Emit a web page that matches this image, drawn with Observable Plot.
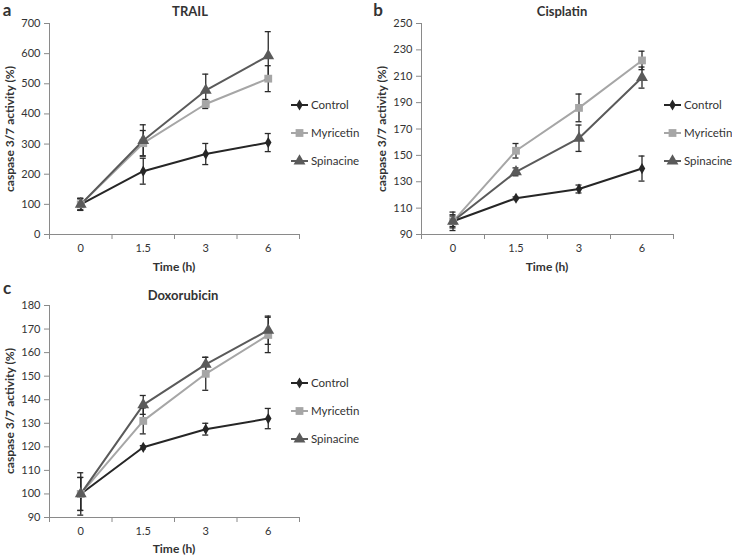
<!DOCTYPE html>
<html>
<head>
<meta charset="utf-8">
<script src="https://cdn.jsdelivr.net/npm/d3@7"></script>
<script src="https://cdn.jsdelivr.net/npm/@observablehq/plot@0.6"></script>
<style>
  html, body { margin: 0; padding: 0; background: #fff; }
  #root { position: relative; width: 732px; height: 556px; overflow: hidden; font-family: Lato, "Open Sans", sans-serif; color: #333; }
  .abs { position: absolute; white-space: nowrap; }
  .ctr { transform: translate(-50%, -50%); }
  .rot { transform: translate(-50%, -50%) rotate(-90deg); }
  .bold { font-weight: 700; }
  .panel svg { overflow: visible; }
</style>
</head>
<body>
<div id="root"></div>
<script>
// ---- data ----
const times = ["0", "1.5", "3", "6"];
const seriesNames = ["Control", "Myricetin", "Spinacine"];

// a: TRAIL
const trailControl = [100, 210, 267, 305];
const trailControlErr = [20, 43, 35, 30];
const trailMyricetin = [100, 303, 433, 517];
const trailMyricetinErr = [18, 42, 15, 43];
const trailSpinacine = [100, 312, 478, 593];
const trailSpinacineErr = [20, 52, 54, 80];
const trailTicks = [0, 100, 200, 300, 400, 500, 600, 700];

// b: Cisplatin
const cisControl = [100, 117.5, 124.5, 140];
const cisControlErr = [5, 1, 3, 9.5];
const cisMyricetin = [100, 153.5, 186, 222];
const cisMyricetinErr = [7, 5.5, 10.5, 7];
const cisSpinacine = [100, 137.5, 163, 209];
const cisSpinacineErr = [4, 3, 10, 8];
const cisTicks = [90, 110, 130, 150, 170, 190, 210, 230, 250];

// c: Doxorubicin
const doxControl = [100, 119.8, 127.5, 132];
const doxControlErr = [7, 0.7, 2.5, 4.3];
const doxMyricetin = [100, 131, 151, 167.5];
const doxMyricetinErr = [9, 5.5, 7, 7.5];
const doxSpinacine = [100, 137.8, 155, 169.5];
const doxSpinacineErr = [7, 4, 3, 6];
const doxTicks = [90, 100, 110, 120, 130, 140, 150, 160, 170, 180];

// ---- styles ----
const colors = {Control: "#262626", Myricetin: "#a6a6a6", Spinacine: "#5a5a5a"};
const symbols = {Control: "diamond", Myricetin: "square", Spinacine: "triangle"};
const sizes = {Control: 3.4, Myricetin: 4.4, Spinacine: 4.4};

const root = document.getElementById("root");

function addText(txt, x, y, cls, size) {
  const d = document.createElement("div");
  d.className = "abs " + cls;
  d.style.left = x + "px";
  d.style.top = y + "px";
  d.style.fontSize = size + "px";
  d.textContent = txt;
  root.appendChild(d);
}

function rowsOf(vals, errs, name) {
  return vals.map((v, i) => ({series: name, i, v, e: errs[i]}));
}

function panel(opt) {
  const {left, top, width, height, mL, mR, mT, mB, yDomain, yTicks, series} = opt;
  const marks = [
    Plot.ruleX([0], {stroke: "#8a8a8a"}),
    Plot.ruleY([yDomain[0]], {stroke: "#8a8a8a"}),
    Plot.axisY({ticks: yTicks, tickSize: 5, tickPadding: 4, stroke: "#8a8a8a", fill: "#333", fontSize: 11, label: null}),
    Plot.axisX({ticks: [0, 1, 2, 3, 4], tickSize: 5, tickFormat: () => "", stroke: "#8a8a8a", label: null}),
    Plot.axisX({ticks: times.map((t, i) => i + 0.5), tickSize: 0, tickPadding: 10, tickFormat: x => times[Math.round(x - 0.5)], fill: "#333", fontSize: 11, label: null})
  ];
  for (const s of series) {
    const rows = s.rows;
    marks.push(Plot.line(rows, {x: d => d.i + 0.5, y: "v", stroke: colors[s.name], strokeWidth: 2}));
  }
  for (const s of series) {
    const rows = s.rows;
    marks.push(Plot.ruleX(rows, {x: d => d.i + 0.5, y1: d => d.v - d.e, y2: d => d.v + d.e, stroke: "#2a2a2a", strokeWidth: 1.3}));
    marks.push(Plot.ruleY(rows, {x1: d => d.i + 0.5, x2: d => d.i + 0.5, y: d => d.v + d.e, insetLeft: -3, insetRight: -3, stroke: "#2a2a2a", strokeWidth: 1.3}));
    marks.push(Plot.ruleY(rows, {x1: d => d.i + 0.5, x2: d => d.i + 0.5, y: d => d.v - d.e, insetLeft: -3, insetRight: -3, stroke: "#2a2a2a", strokeWidth: 1.3}));
  }
  for (const s of series) {
    marks.push(Plot.dot(s.rows, {x: d => d.i + 0.5, y: "v", symbol: symbols[s.name], fill: colors[s.name], stroke: "none", r: sizes[s.name]}));
  }
  const chart = Plot.plot({
    width, height,
    marginLeft: mL, marginRight: mR, marginTop: mT, marginBottom: mB,
    style: {fontFamily: "Lato, 'Open Sans', sans-serif", fontSize: "11px", color: "#333", background: "transparent", overflow: "visible"},
    x: {domain: [0, 4], axis: null},
    y: {domain: yDomain, axis: null},
    marks
  });
  const wrap = document.createElement("div");
  wrap.className = "abs panel";
  wrap.style.left = left + "px";
  wrap.style.top = top + "px";
  wrap.appendChild(chart);
  root.appendChild(wrap);
}

function legend(x, y, gap) {
  seriesNames.forEach((name, k) => {
    const cy = y + k * gap;
    const svg = d3.create("svg").attr("width", 20).attr("height", 12)
      .style("position", "absolute").style("left", x + "px").style("top", (cy - 6) + "px").style("overflow", "visible");
    svg.append("line").attr("x1", 0).attr("x2", 17).attr("y1", 6).attr("y2", 6)
      .attr("stroke", colors[name]).attr("stroke-width", 2);
    const sym = {diamond: d3.symbolDiamond, square: d3.symbolSquare, triangle: d3.symbolTriangle}[symbols[name]];
    const r = sizes[name];
    svg.append("path").attr("transform", "translate(8.5,6)")
      .attr("d", d3.symbol(sym, Math.PI * r * r)()).attr("fill", colors[name]);
    root.appendChild(svg.node());
    const t = document.createElement("div");
    t.className = "abs";
    t.style.left = (x + 20) + "px";
    t.style.top = (cy - 8) + "px";
    t.style.fontSize = "11.5px";
    t.style.lineHeight = "16px";
    t.textContent = name;
    root.appendChild(t);
  });
}

// ---- panel a ----
panel({
  left: 0, top: 0, width: 310, height: 270, mL: 49, mR: 11, mT: 23, mB: 36,
  yDomain: [0, 700], yTicks: trailTicks,
  series: [
    {name: "Control", rows: rowsOf(trailControl, trailControlErr, "Control")},
    {name: "Myricetin", rows: rowsOf(trailMyricetin, trailMyricetinErr, "Myricetin")},
    {name: "Spinacine", rows: rowsOf(trailSpinacine, trailSpinacineErr, "Spinacine")}
  ]
});
// ---- panel b ----
panel({
  left: 372, top: 0, width: 310, height: 270, mL: 49, mR: 9, mT: 23, mB: 36,
  yDomain: [90, 250], yTicks: cisTicks,
  series: [
    {name: "Control", rows: rowsOf(cisControl, cisControlErr, "Control")},
    {name: "Myricetin", rows: rowsOf(cisMyricetin, cisMyricetinErr, "Myricetin")},
    {name: "Spinacine", rows: rowsOf(cisSpinacine, cisSpinacineErr, "Spinacine")}
  ]
});
// ---- panel c ----
panel({
  left: 0, top: 280, width: 310, height: 270, mL: 49, mR: 11, mT: 25, mB: 33,
  yDomain: [90, 180], yTicks: doxTicks,
  series: [
    {name: "Control", rows: rowsOf(doxControl, doxControlErr, "Control")},
    {name: "Myricetin", rows: rowsOf(doxMyricetin, doxMyricetinErr, "Myricetin")},
    {name: "Spinacine", rows: rowsOf(doxSpinacine, doxSpinacineErr, "Spinacine")}
  ]
});

// ---- texts ----
addText("a", 7, 9, "ctr bold", 17);
addText("b", 378, 9, "ctr bold", 17);
addText("c", 7, 287, "ctr bold", 17);
addText("TRAIL", 190, 11, "ctr bold", 13);
addText("Cisplatin", 562, 11, "ctr bold", 13);
addText("Doxorubicin", 183, 295, "ctr bold", 13);
addText("Time (h)", 174, 266, "ctr bold", 12);
addText("Time (h)", 547, 266, "ctr bold", 12);
addText("Time (h)", 174, 548, "ctr bold", 12);
addText("caspase 3/7 activity (%)", 9, 128.5, "rot bold", 12);
addText("caspase 3/7 activity (%)", 381, 128.5, "rot bold", 12);
addText("caspase 3/7 activity (%)", 9, 411, "rot bold", 12);

legend(291, 105, 28);
legend(664, 105, 28);
legend(291, 383, 28);
</script>
</body>
</html>
